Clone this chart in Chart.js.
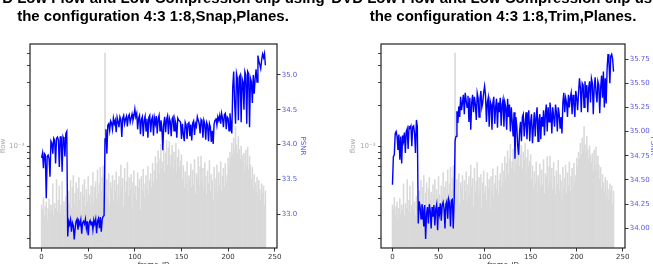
<!DOCTYPE html>
<html>
<head>
<meta charset="utf-8">
<script src="https://cdn.jsdelivr.net/npm/chart.js@4.4.0/dist/chart.umd.min.js"></script>
<style>
html, body { margin: 0; padding: 0; overflow: hidden; background: #fff; }
body { width: 653px; height: 264px; position: relative; }
.panel { position: absolute; top: -10px; }
#snapBox { left: -20px; }
#trimBox { left: 330px; }
</style>
</head>
<body>
<div class="panel" id="snapBox"><canvas id="snapChart" width="346" height="280"></canvas></div>
<div class="panel" id="trimBox"><canvas id="trimChart" width="346" height="280"></canvas></div>
<script>
// frame ids 0..240
const frames = Array.from({ length: 241 }, (_, i) => i);

// flow per frame, in units of 1e-4 (same clip for both panels)
const flowE4 = [
  3.6,3.3,4.1,3.0,3.5,3.8,2.8,3.4,4.0,3.1, 3.6,3.3,5.2,3.0,3.7,3.4,5.6,3.2,3.9,5.0,
  3.1,3.6,5.4,3.3,3.8,3.0,4.2,3.5,
  3.2,4.6,3.7,5.5,3.4,4.9,6.0,3.6,4.4,5.3, 3.3,4.8,5.8,3.9,4.5,3.2,5.1,4.2,5.6,3.5,
  4.7,3.8,5.9,4.3,3.6,5.0,4.1,6.3,3.7,4.9, 5.4,4.0,6.6,4.4,5.2,6.9,4.6,5.8,7.1,5.0,
  50,
  4.4,5.6,4.1,6.2,3.6,5.3,4.8,6.0,3.9,5.5, 4.6,6.4,3.8,5.1,5.9,4.3,7.2,4.9,5.7,3.5,
  6.8,4.5,5.4,7.5,4.2,5.8,4.7,6.1,3.4,5.3, 6.5,4.4,5.0,3.9,6.3,4.8,5.6,3.3,5.9,4.6,
  6.7,4.1,5.2,6.0,4.7,7.0,4.3,5.5,6.2,4.9, 7.4,5.3,
  6.5,8.3,5.6,7.4,9.2,6.1,8.0,10.3,6.8,7.6, 9.5,6.4,8.8,11.0,7.2,9.8,10.8,7.0,8.5,10.1,
  6.7,9.0,7.8,10.5,6.3,8.2,9.4,6.9,7.7,8.6,
  5.6,7.1,4.8,6.4,5.2,7.6,4.5,6.0,5.5,7.3, 4.9,6.6,5.1,7.9,4.4,6.2,5.8,8.3,5.0,7.0,
  8.4,5.4,6.8,4.7,7.5,5.9,4.3,6.5,5.2,7.8, 4.6,6.1,5.5,3.9,6.9,4.8,5.7,7.2,4.4,6.3,
  5.0,7.6,4.6,5.9,6.8,4.9,7.4,5.3,6.0,8.1,
  7.0,9.0,8.0,10.5,8.6,11.5,9.5,14.0,10.2,8.8, 11.8,9.4,8.0,10.0,8.5,
  7.5,8.8,6.4,9.3,7.1,9.8,6.6,8.4,7.2,5.6, 6.9,4.8,6.1,5.3,4.5,5.8,4.2,5.5,4.7,3.9,
  5.2,4.4,5.0,3.6,4.6
];

// PSNR per frame, 4:3 1:8,Snap,Planes
const psnrSnap = [
  33.81,33.88,33.66,33.87,33.85,33.23,33.83,33.85,33.80,33.54, 34.05,34.02,33.87,34.09,34.06,33.73,34.09,34.11,34.07,33.68,
  34.11,34.11,33.61,34.11,34.07,33.83,34.16,34.19,
  32.68,32.90,32.85,32.92,32.75,32.88,32.84,32.64,32.80,32.90, 32.93,32.78,32.90,32.85,32.92,32.72,32.88,32.90,32.86,32.93,
  32.80,32.90,32.70,32.88,32.91,32.85,32.90,32.78,32.92,32.86, 32.93,32.73,32.90,32.94,32.80,32.96,32.75,32.93,32.97,32.98,
  34.08,34.22,33.87,34.28,34.30,34.20,34.34,34.31,34.22,34.38, 34.30,34.35,34.18,34.39,34.33,34.25,34.40,34.36,34.11,34.38,
  34.42,34.30,34.37,34.41,34.26,34.40,34.43,34.32,34.38,34.44, 34.35,34.41,34.51,
  34.40,34.45,34.22,34.38,34.42,34.15,34.36,34.40,34.12,34.35, 34.41,34.20,34.37,34.10,34.39,34.42,34.18,34.36,34.40,34.13,
  34.38,34.30,34.41,34.16,34.37,34.42,34.20,34.35,34.25,33.92, 34.30,34.40,34.18,34.36,34.41,34.15,34.38,34.33,34.12,34.37,
  34.40,34.20,34.36,34.30,34.10,34.38,34.35,34.34,34.32,34.08,
  34.30,34.15,34.05,34.32,34.28,34.08,34.30,34.33,34.12,34.29, 34.06,34.31,34.34,34.14,34.30,34.26,34.40,34.35,34.30,34.16,
  34.36,34.33,34.10,34.35,34.30,34.07,34.32,34.28,34.05,34.30, 34.25,34.04,34.20,34.01,34.30,
  34.35,34.38,34.28,34.40,34.35,34.42,34.30,34.45,34.38,34.25, 34.43,34.45,34.22,34.40,34.38,34.20,34.45,34.30,34.16,34.83,
  35.05,34.60,34.30,35.02,34.95,34.35,34.97,35.00,34.32,34.95, 34.90,34.50,35.05,35.00,34.30,35.05,35.02,34.25,34.95,34.90,
  34.60,35.00,34.73,34.95,35.08,
  34.90,35.28,35.20,35.15,35.09,35.22,35.30,35.25,35.31,35.14
];

// PSNR per frame, 4:3 1:8,Trim,Planes
const psnrTrim = [
  34.45,34.74,34.76,34.98,35.00,34.95,34.81,34.97,34.71,34.95, 34.67,34.96,34.90,34.99,34.78,35.00,35.03,34.82,35.05,35.04,
  35.06,34.85,35.05,35.06,34.98,34.78,35.12,35.05,
  34.05,34.28,34.22,34.10,34.25,34.20,34.02,34.24,33.89,34.15, 34.22,34.05,34.25,34.18,34.00,34.22,34.12,34.24,34.03,34.20,
  34.25,33.98,34.22,34.15,34.26,34.08,34.24,34.27,34.20,34.00, 34.25,34.28,34.10,34.30,34.26,34.02,34.29,34.30,34.00,34.30,
  34.91,34.95,35.21,35.09,35.26,35.15,35.36,35.22,35.30,35.38, 35.18,35.40,35.32,35.25,35.37,35.10,35.35,35.02,35.30,35.38,
  35.20,35.36,35.28,35.12,35.40,35.35,35.15,35.33,35.42,35.25, 35.30,35.40,35.47,
  35.38,35.10,35.30,35.35,35.05,35.32,35.28,35.02,35.30,35.36, 35.08,35.25,35.34,35.04,35.30,35.20,35.35,35.06,35.28,35.33,
  35.05,35.30,35.25,35.02,35.34,35.15,35.28,35.00,35.25,35.10,
  34.95,35.20,34.72,35.15,35.05,34.85,34.76,35.00,35.10,34.90, 35.15,35.18,34.95,35.08,35.20,34.92,35.12,35.22,34.90,35.10,
  35.18,34.88,35.05,35.20,34.95,35.15,35.25,34.90,35.12,35.18, 34.92,35.15,35.05,35.22,34.96,35.18,35.28,35.00,35.25,35.10,
  35.30,35.20,34.98,35.25,35.15,
  35.05,35.28,35.20,35.00,35.25,35.18,35.03,35.15,34.98,35.30, 35.40,35.20,35.35,35.30,35.15,35.38,35.25,35.35,35.40,35.18,
  35.38,35.30,35.15,35.42,35.35,
  35.22,35.40,35.55,35.45,35.20,35.50,35.48,35.25,35.52,35.35, 35.48,35.20,35.45,35.52,35.30,35.55,35.50,35.18,35.45,35.56,
  35.40,35.30,35.52,35.48,35.19,35.45,35.58,35.35,35.62,35.25,
  35.55,35.29,35.65,35.80,35.72,35.50,35.78,35.80,35.75,35.62
];

const xTicks = [0, 50, 100, 150, 200, 250];
const flowTicks = [2e-4, 3e-4, 4e-4, 5e-4, 6e-4, 7e-4, 8e-4, 9e-4, 1e-3, 2e-3, 3e-3, 4e-3, 5e-3];
const psnrTicksSnap = [33.0, 33.5, 34.0, 34.5, 35.0];
const psnrTicksTrim = [34.00, 34.25, 34.50, 34.75, 35.00, 35.25, 35.50, 35.75];

const titleTop = 'DVD Low Flow and Low Compression clip using';
const tickFont = { family: 'DejaVu Sans', size: 7 };
const psnrColor = '#5656e0';
const flowColor = '#a8a8a8';

const frameBox = {
  id: 'frameBox',
  afterDraw(chart) {
    const { ctx, chartArea: a } = chart;
    ctx.save();
    ctx.strokeStyle = '#222';
    ctx.lineWidth = 1.2;
    ctx.strokeRect(a.left, a.top, a.right - a.left, a.bottom - a.top);
    ctx.restore();
  }
};

const makeChart = (id, subtitle, psnr, psnrTicks, psnrMin, psnrMax, digits, leftW, rightW) => {
  new Chart(document.getElementById(id), {
    type: 'bar',
    data: {
      datasets: [
        {
          type: 'line',
          data: frames.map((f, i) => ({ x: f, y: psnr[i] })),
          yAxisID: 'psnr',
          borderColor: '#0000ff',
          borderWidth: 1.4,
          pointRadius: 0,
          tension: 0,
          order: 0
        },
        {
          type: 'bar',
          data: frames.map((f, i) => ({ x: f, y: flowE4[i] * 1e-4 })),
          yAxisID: 'flow',
          backgroundColor: '#d9d9d9',
          barPercentage: 1,
          categoryPercentage: 1,
          order: 1
        }
      ]
    },
    options: {
      responsive: false,
      animation: false,
      devicePixelRatio: 1,
      layout: { padding: 0 },
      plugins: {
        legend: { display: false },
        tooltip: { enabled: false },
        title: {
          display: true,
          text: [titleTop, subtitle],
          color: '#000',
          font: { family: 'Liberation Sans', weight: 'bold', size: 15, lineHeight: 1.2 },
          padding: { top: 0, bottom: 18 }
        }
      },
      scales: {
        x: {
          type: 'linear',
          offset: false,
          min: -12.44,
          max: 252.44,
          afterBuildTicks: s => { s.ticks = xTicks.map(v => ({ value: v })); },
          afterFit: s => { s.height = 22; },
          ticks: { font: tickFont, color: '#333', padding: 1, maxRotation: 0, autoSkip: false },
          grid: { offset: false, drawOnChartArea: false, tickLength: 3.5, tickColor: '#333' },
          border: { display: false },
          title: { display: true, text: 'frame_ID', font: tickFont, color: '#333', padding: { top: 0, bottom: 1 } }
        },
        flow: {
          type: 'logarithmic',
          position: 'left',
          min: 1.71e-4,
          max: 5.85e-3,
          afterBuildTicks: s => { s.ticks = flowTicks.map(v => ({ value: v })); },
          afterFit: s => { s.width = leftW; },
          ticks: {
            font: tickFont, color: flowColor, padding: 2.5, autoSkip: false,
            callback: v => (v === 1e-3 ? '10\u207B\u00B3' : '')
          },
          grid: { drawOnChartArea: false, tickLength: 3, tickColor: '#444' },
          border: { display: false },
          title: { display: true, text: 'flow', font: tickFont, color: flowColor, padding: { top: 19 } }
        },
        psnr: {
          type: 'linear',
          position: 'right',
          min: psnrMin,
          max: psnrMax,
          afterBuildTicks: s => { s.ticks = psnrTicks.map(v => ({ value: v })); },
          afterFit: s => { s.width = rightW; },
          ticks: {
            font: tickFont, color: psnrColor, padding: 1.2, autoSkip: false,
            callback: v => v.toFixed(digits)
          },
          grid: { drawOnChartArea: false, tickLength: 3.5, tickColor: '#333' },
          border: { display: false },
          title: { display: true, text: 'PSNR', font: tickFont, color: psnrColor, padding: { top: 18.5 } }
        }
      }
    },
    plugins: [frameBox]
  });
};

makeChart('snapChart', 'the configuration 4:3 1:8,Snap,Planes.', psnrSnap, psnrTicksSnap, 32.516, 35.445, 1, 50, 49);
makeChart('trimChart', 'the configuration 4:3 1:8,Trim,Planes.', psnrTrim, psnrTicksTrim, 33.797, 35.905, 2, 51, 51);
</script>
</body>
</html>
